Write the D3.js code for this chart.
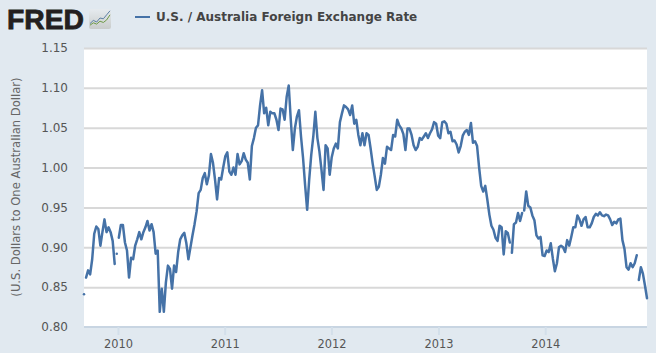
<!DOCTYPE html>
<html><head><meta charset="utf-8">
<script src="https://cdn.jsdelivr.net/npm/d3@7/dist/d3.min.js"></script>
<style>html,body{margin:0;padding:0;background:#E1E9F0}svg{display:block}</style>
</head><body><div id="chart"></div>
<script>
const seriesName = "U.S. / Australia Foreign Exchange Rate";
const yTitle = "(U.S. Dollars to One Australian Dollar)";
const yTicks = [0.80,0.85,0.90,0.95,1.00,1.05,1.10,1.15];
const xTickYears = [2010,2011,2012,2013,2014];
const firstWeek = "2009-09-07";
const weeklyRate = [
.841,.862,.871,.866,.885,.917,.926,.923,.902,.919,.935,.919,.925,.919,.908,
.879,.892,.912,.928,.928,.906,.896,.862,.887,.885,.902,.910,.919,.910,
.919,.925,.933,.921,.929,.919,.892,.896,.819,.848,.819,.856,.877,.873,.848,.877,
.869,.894,.910,.915,.918,.905,.885,.900,.915,.929,.945,.968,.972,.987,.993,.979,
.990,1.017,1.006,.985,.960,.987,.985,1.000,1.014,1.019,.995,.991,1.000,.991,1.017,1.004,
1.008,1.018,1.010,1.006,.985,1.027,1.037,1.050,1.053,1.078,1.097,1.068,1.075,1.053,1.070,1.068,
1.068,1.060,1.047,1.074,1.073,1.060,1.089,1.103,1.060,1.022,1.049,1.064,1.072,1.039,1.012,.978,
.947,.985,1.016,1.039,1.070,1.037,1.020,.997,.972,1.028,1.024,.991,1.013,1.024,1.030,1.024,
1.057,1.068,1.078,1.076,1.073,1.066,1.078,1.055,1.060,1.041,1.028,1.043,1.028,1.043,1.041,1.024,
1.005,.989,.972,.976,.991,1.012,1.005,1.026,1.024,1.022,1.041,1.039,1.060,1.053,1.049,1.042,
1.022,1.049,1.049,1.041,1.028,1.022,1.026,1.037,1.035,1.039,1.043,1.037,1.043,1.048,1.057,1.055,
1.040,1.037,1.057,1.058,1.055,1.043,1.045,1.033,1.034,1.029,1.019,1.027,1.040,1.045,1.047,1.041,
1.056,1.031,1.033,1.027,1.000,.977,.970,.977,.960,.941,.927,.922,.912,.908,.927,.925,
.891,.920,.918,.906,.893,.929,.931,.943,.933,.943,.946,.970,.952,.950,.940,.934,
.915,.911,.913,.890,.889,.896,.894,.905,.886,.870,.880,.900,.902,.900,.894,.909,
.902,.913,.925,.925,.940,.935,.927,.935,.938,.925,.925,.930,.938,.942,.940,.944,
.940,.939,.941,.940,.935,.928,.932,.930,.935,.936,.909,.898,.875,.872,.880,.875,
.880,.890,.859,.875,.867,.852,.836
];
// series breaks: the line is interrupted just before these week indexes (missing observations)
const gapBefore = [1,16,17,24,209,215,271];
const iconBlue = [0.15,0.35,0.25,0.5,0.45,0.7,0.95];
const iconGreen = [0.05,0.2,0.12,0.3,0.22,0.38,0.7];

const W=656,H=353,L=84,R=647,T=48,B=327;
const svg=d3.select("#chart").append("svg").attr("width",W).attr("height",H)
  .style("font-family","'DejaVu Sans',sans-serif");
svg.append("rect").attr("width",W).attr("height",H).attr("fill","#E1E9F0");
svg.append("rect").attr("x",L).attr("y",T).attr("width",R-L).attr("height",B-T).attr("fill","#fff");

const start=d3.isoParse(firstWeek+"T00:00:00Z");
const dates=weeklyRate.map((_,i)=>d3.utcWeek.offset(start,i));
const x=d3.scaleUtc().domain([dates[0],dates[dates.length-1]]).range([L,R]);
const y=d3.scaleLinear().domain([0.80,1.15]).range([B,T]);

// y grid + labels
const gy=svg.append("g").attr("transform",`translate(${L},0)`)
  .call(d3.axisLeft(y).tickValues(yTicks).tickFormat(d3.format(".2f")).tickSize(-(R-L)).tickPadding(16));
gy.select(".domain").remove();
gy.selectAll(".tick line").attr("stroke","#D8D8D8").attr("stroke-width",2)
  .attr("display",d=>d===0.80?"none":null);
gy.selectAll(".tick text").attr("fill","#555").attr("font-size",12).attr("font-family","'DejaVu Sans',sans-serif");

// x axis
const gx=svg.append("g").attr("transform",`translate(0,${B})`)
  .call(d3.axisBottom(x).tickValues(xTickYears.map(v=>new Date(Date.UTC(v,0,1))))
    .tickFormat(d3.utcFormat("%Y")).tickSize(8).tickPadding(5));
gx.select(".domain").attr("stroke","#C8D5E2").attr("stroke-width",2).attr("d",`M${L},0H${R}`);
gx.selectAll(".tick line").attr("stroke","#D3DFEA").attr("stroke-width",2);
gx.selectAll(".tick text").attr("fill","#555").attr("font-size",11.4).attr("font-family","'DejaVu Sans',sans-serif");

// series, one path per unbroken run
const points=dates.map((d,i)=>[d,weeklyRate[i]]);
const cuts=[0,...gapBefore,points.length];
const runs=d3.pairs(cuts).map(([a,b])=>points.slice(a,b));
const line=d3.line().x(d=>x(d[0])).y(d=>y(d[1]));
svg.append("g").selectAll("path").data(runs).join("path")
  .attr("d",line).attr("fill","none").attr("stroke","#4572A7").attr("stroke-width",2.5)
  .attr("stroke-linejoin","round").attr("stroke-linecap","round");

// y title
svg.append("text").attr("transform","translate(20,187) rotate(-90)").attr("text-anchor","middle")
  .attr("font-size",11.6).attr("fill","#666").text(yTitle);

// legend
svg.append("line").attr("x1",135).attr("x2",150).attr("y1",17).attr("y2",17).attr("stroke","#4572A7").attr("stroke-width",2);
svg.append("text").attr("x",156).attr("y",21).attr("font-size",12).attr("font-weight","bold").attr("fill","#444").text(seriesName);

// FRED logo
svg.append("text").attr("x",7).attr("y",29).attr("font-family","'Liberation Sans',Arial,sans-serif")
  .attr("font-weight","bold").attr("font-size",28).attr("fill","#231F20").attr("stroke","#231F20").attr("stroke-width",0.8)
  .attr("textLength",77).attr("lengthAdjust","spacingAndGlyphs").text("FRED");
const grad=svg.append("defs").append("linearGradient").attr("id","ig").attr("x1",0).attr("x2",0).attr("y1",0).attr("y2",1);
grad.append("stop").attr("offset",0).attr("stop-color","#E6EBEF");
grad.append("stop").attr("offset",1).attr("stop-color","#C9CCCB");
svg.append("rect").attr("x",89).attr("y",9).attr("width",22).attr("height",20).attr("rx",2).attr("fill","url(#ig)");
const ix=d3.scaleLinear().domain([0,iconBlue.length-1]).range([90,110]);
const iy=d3.scaleLinear().domain([0,1]).range([26,10]);
const il=d3.line().x((d,i)=>ix(i)).y(d=>iy(d));
svg.append("path").attr("d",il(iconBlue)).attr("fill","none").attr("stroke","#5C7FA3").attr("stroke-width",1);
svg.append("path").attr("d",il(iconGreen)).attr("fill","none").attr("stroke","#6E9A45").attr("stroke-width",1);
</script></body></html>
